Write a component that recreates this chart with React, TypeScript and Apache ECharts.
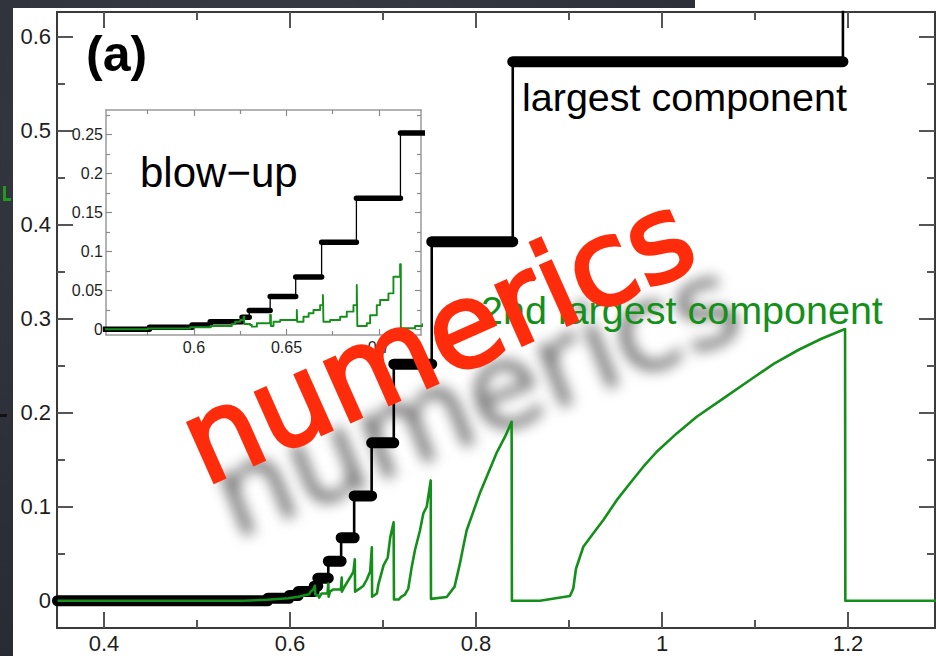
import React, { useEffect, useRef } from "react";
import * as echarts from "echarts";

// ---- tick values ----
const xMajorMain = [0.4, 0.6, 0.8, 1.0, 1.2];
const xMinorMain = [0.5, 0.7, 0.9, 1.1];
const yMajorMain = [0, 0.1, 0.2, 0.3, 0.4, 0.5, 0.6];
const yMinorMain = [0.05, 0.15, 0.25, 0.35, 0.45, 0.55];
const xMajorInset = [0.6, 0.65, 0.7];
const xMinorInset = [0.575, 0.625, 0.675];
const yMajorInset = [0, 0.05, 0.1, 0.15, 0.2, 0.25];
const yMinorInset = [0.025, 0.075, 0.125, 0.175, 0.225, 0.275];

// ---- largest component: jump positions and plateau levels ----
const blackJumpX = [0.35, 0.576, 0.599, 0.6088, 0.626, 0.6299, 0.6412, 0.655, 0.669, 0.6878, 0.7116, 0.7524, 0.8395, 1.1945];
const blackLevel = [0, 0.0026, 0.0055, 0.0098, 0.0155, 0.024, 0.042, 0.067, 0.1115, 0.168, 0.2517, 0.382, 0.5734, 0.75];
const blackEndX = 1.3;

// ---- 2nd largest component ----
const greenX = [
  0.35, 0.55, 0.575, 0.598, 0.609, 0.6205, 0.6223, 0.625, 0.6268, 0.6272,
  0.6304, 0.6313, 0.634, 0.6403, 0.6412, 0.6416, 0.643, 0.6466, 0.6547, 0.6556,
  0.6558, 0.6592, 0.662, 0.6646, 0.6682, 0.6697, 0.67, 0.6736, 0.679, 0.6826,
  0.6862, 0.688, 0.6883, 0.6934, 0.6952, 0.6988, 0.7006, 0.7051, 0.7078, 0.7114,
  0.7118, 0.7168, 0.7195, 0.7235, 0.7272, 0.7309, 0.7344, 0.7398, 0.7434, 0.747,
  0.7513, 0.7516, 0.7685, 0.777, 0.7828, 0.7863, 0.79, 0.804, 0.8115, 0.822,
  0.8312, 0.8383, 0.8386, 0.8688, 0.901, 0.9046, 0.9075, 0.9154, 0.9262, 0.9369,
  0.9513, 0.9656, 0.9799, 0.9943, 1.0158, 1.0373, 1.066, 1.0946, 1.12, 1.147,
  1.172, 1.1968, 1.1971, 1.3,
];
const greenY = [
  0, 0, 0.001, 0.0026, 0.0042, 0.0068, 0.0097, 0.012, 0.016, 0.0068,
  0.0055, 0.0034, 0.0077, 0.0077, 0.0183, 0.0042, 0.0097, 0.012, 0.012, 0.0247,
  0.0097, 0.016, 0.0205, 0.0247, 0.031, 0.044, 0.0097, 0.012, 0.016, 0.0226,
  0.031, 0.0568, 0.0042, 0.0077, 0.018, 0.031, 0.0376, 0.046, 0.0674, 0.0835,
  0.0013, 0.0013, 0.0042, 0.0065, 0.013, 0.036, 0.054, 0.075, 0.093, 0.1,
  0.128, 0.002, 0.004, 0.015, 0.04, 0.0574, 0.075, 0.114, 0.132, 0.157,
  0.1745, 0.1904, 0, 0, 0.005, 0.013, 0.034, 0.0574, 0.0717, 0.0858,
  0.107, 0.125, 0.1426, 0.1585, 0.178, 0.1957, 0.2153, 0.2348, 0.252, 0.267,
  0.279, 0.289, 0, 0,
];

const FONT = '"Liberation Sans", Arial, Helvetica, sans-serif';
const BLACK = "#000000";
const GREEN = "#14901a";
const RED = "#ff2c0c";

const fmt = (v: number) => String(parseFloat(Number(v).toFixed(3)));

function axis(
  grid: number,
  position: string,
  min: number,
  max: number,
  ticks: number[],
  tickLen: number,
  opts: {
    line?: boolean;
    labels?: boolean;
    fontSize?: number;
    margin?: number;
    lineColor?: string;
    lineWidth?: number;
    tickColor?: string;
    tickWidth?: number;
    z?: number;
  }
) {
  return {
    type: "value",
    gridIndex: grid,
    position,
    min,
    max,
    z: opts.z ?? 0,
    axisLine: {
      show: !!opts.line,
      onZero: false,
      lineStyle: { color: opts.lineColor ?? "#444", width: opts.lineWidth ?? 2 },
    },
    axisTick: {
      show: true,
      inside: true,
      length: tickLen,
      customValues: ticks,
      lineStyle: { color: opts.tickColor ?? "#555", width: opts.tickWidth ?? 2 },
    },
    minorTick: { show: false },
    splitLine: { show: false },
    axisLabel: opts.labels
      ? {
          show: true,
          customValues: ticks,
          formatter: fmt,
          fontSize: opts.fontSize ?? 22,
          fontFamily: FONT,
          color: "#1e1e1e",
          margin: opts.margin ?? 6,
        }
      : { show: false },
  };
}

export default function App() {
  const ref = useRef<HTMLDivElement>(null);

  useEffect(() => {
    if (!ref.current) return;
    const chart = echarts.init(ref.current, undefined, { renderer: "svg" });

    const stepPts: any[] = [];
    const plateauPts: any[] = [];
    for (let i = 0; i < blackJumpX.length; i++) {
      const x0 = blackJumpX[i];
      const x1 = i + 1 < blackJumpX.length ? blackJumpX[i + 1] : blackEndX;
      if (i > 0) stepPts.push([x0, blackLevel[i - 1]]);
      stepPts.push([x0, blackLevel[i]]);
      plateauPts.push([x0, blackLevel[i]], [x1, blackLevel[i]], [x1, null]);
    }
    stepPts.push([blackEndX, blackLevel[blackLevel.length - 1]]);
    const greenPts = greenX.map((x, i) => [x, greenY[i]]);

    const mX = [0.3495, 1.2935];
    const mY = [-0.029, 0.6263];
    const iX = [0.5525, 0.7227];
    const iY = [-0.0073, 0.2811];

    const mainAxisOpts = { lineColor: "#3a3a3a", lineWidth: 2, tickColor: "#555", tickWidth: 2 };
    const insetAxisOpts = { lineColor: "#9a9a9a", lineWidth: 1.5, tickColor: "#8a8a8a", tickWidth: 1.2, z: 10 };

    const xAxis = [
      axis(0, "bottom", mX[0], mX[1], xMajorMain, 16, { ...mainAxisOpts, line: true, labels: true, fontSize: 22, margin: 4 }),
      axis(0, "bottom", mX[0], mX[1], xMinorMain, 8, { ...mainAxisOpts }),
      axis(0, "top", mX[0], mX[1], xMajorMain, 16, { ...mainAxisOpts, line: true }),
      axis(0, "top", mX[0], mX[1], xMinorMain, 8, { ...mainAxisOpts }),
      axis(1, "bottom", iX[0], iX[1], xMajorInset, 6, { ...insetAxisOpts, line: true, labels: true, fontSize: 16, margin: 4 }),
      axis(1, "bottom", iX[0], iX[1], xMinorInset, 4, { ...insetAxisOpts }),
      axis(1, "top", iX[0], iX[1], xMajorInset, 6, { ...insetAxisOpts, line: true }),
      axis(1, "top", iX[0], iX[1], xMinorInset, 4, { ...insetAxisOpts }),
    ];
    const yAxis = [
      axis(0, "left", mY[0], mY[1], yMajorMain, 16, { ...mainAxisOpts, line: true, labels: true, fontSize: 22, margin: 6 }),
      axis(0, "left", mY[0], mY[1], yMinorMain, 8, { ...mainAxisOpts }),
      axis(0, "right", mY[0], mY[1], yMajorMain, 16, { ...mainAxisOpts, line: true }),
      axis(0, "right", mY[0], mY[1], yMinorMain, 8, { ...mainAxisOpts }),
      axis(1, "left", iY[0], iY[1], yMajorInset, 6, { ...insetAxisOpts, line: true, labels: true, fontSize: 16, margin: 3 }),
      axis(1, "left", iY[0], iY[1], yMinorInset, 4, { ...insetAxisOpts }),
      axis(1, "right", iY[0], iY[1], yMajorInset, 6, { ...insetAxisOpts, line: true }),
      axis(1, "right", iY[0], iY[1], yMinorInset, 4, { ...insetAxisOpts }),
    ];

    const lineSeries = (data: any[], xi: number, yi: number, color: string, width: number, z: number, cap = "butt", step: any = false) => ({
      type: "line",
      xAxisIndex: xi,
      yAxisIndex: yi,
      data,
      step,
      symbol: "none",
      showSymbol: false,
      connectNulls: false,
      clip: true,
      silent: true,
      z,
      lineStyle: { color, width, cap, join: "round" },
    });

    const txt = (text: string, x: number, y: number, size: number, color: string, extra: any = {}) => ({
      type: "text",
      x,
      y,
      z: 50,
      silent: true,
      ...extra.el,
      style: {
        text,
        fill: color,
        fontSize: size,
        fontFamily: extra.family ?? FONT,
        fontWeight: extra.weight ?? "normal",
        textAlign: extra.align ?? "left",
        textVerticalAlign: "middle",
        align: extra.align ?? "left",
        verticalAlign: "middle",
        ...extra.style,
      },
    });

    chart.setOption({
      animation: false,
      backgroundColor: "transparent",
      grid: [
        { left: 57, top: 12, width: 878, height: 616, show: false },
        { left: 106, top: 110, width: 315, height: 225, show: true, backgroundColor: "#ffffff", borderWidth: 0, z: 6 },
      ],
      xAxis,
      yAxis,
      series: [
        lineSeries(stepPts, 0, 0, BLACK, 2.6, 2),
        lineSeries(plateauPts, 0, 0, BLACK, 11, 2, "round"),
        lineSeries(greenPts, 0, 0, GREEN, 2.6, 3),
        lineSeries(stepPts, 4, 4, BLACK, 1.3, 11),
        lineSeries(plateauPts, 4, 4, BLACK, 5.5, 11, "round"),
        lineSeries(greenPts, 4, 4, GREEN, 1.9, 12, "butt", "end"),
      ],
      graphic: {
        elements: [
          { type: "rect", shape: { x: 3, y: 186, width: 3, height: 15 }, style: { fill: "#1f9a1f" }, z: 50, silent: true },
          { type: "rect", shape: { x: 3, y: 198, width: 8, height: 3 }, style: { fill: "#1f9a1f" }, z: 50, silent: true },
          { type: "rect", shape: { x: 0, y: 414, width: 7, height: 3 }, style: { fill: "#111" }, z: 50, silent: true },
          txt("(a)", 86, 54, 50, "#000", { weight: "bold" }),
          txt("blow\u2212up", 140, 172, 42, "#000"),
          txt("largest component", 522, 97, 39.5, "#000"),
          txt("2nd largest component", 481, 310, 39.5, GREEN),
          txt("numerics", 437, 338, 118, RED, {
            align: "center",
            family: '"DejaVu Sans", sans-serif',
            el: { rotation: (24 * Math.PI) / 180, z: 60 },
            style: { stroke: RED, lineWidth: 3.5, lineJoin: "round" },
          }),
        ],
      },
    });

    return () => chart.dispose();
  }, []);

  return (
    <div
      style={{
        position: "absolute",
        left: 0,
        top: 0,
        width: 936,
        height: 656,
        overflow: "hidden",
        background: "radial-gradient(circle at 30% 20%, #3a3d45 0%, #2c2f37 55%, #23252c 100%)",
      }}
    >
      <div style={{ position: "absolute", left: 13, top: 8, right: 0, bottom: 0, background: "#ffffff" }} />
      <div style={{ position: "absolute", left: 695, top: 0, width: 241, height: 8, background: "#ffffff" }} />
      <div
        style={{
          position: "absolute",
          left: 476,
          top: 398,
          transform: "translate(-50%, -50%) rotate(-22deg)",
          font: '120px "DejaVu Sans", sans-serif',
          color: "rgba(85,85,85,0.85)",
          filter: "blur(7px)",
          whiteSpace: "nowrap",
          lineHeight: 1,
          pointerEvents: "none",
        }}
      >
        numerics
      </div>
      <div ref={ref} style={{ position: "absolute", left: 0, top: 0, width: 936, height: 656 }} />
    </div>
  );
}
